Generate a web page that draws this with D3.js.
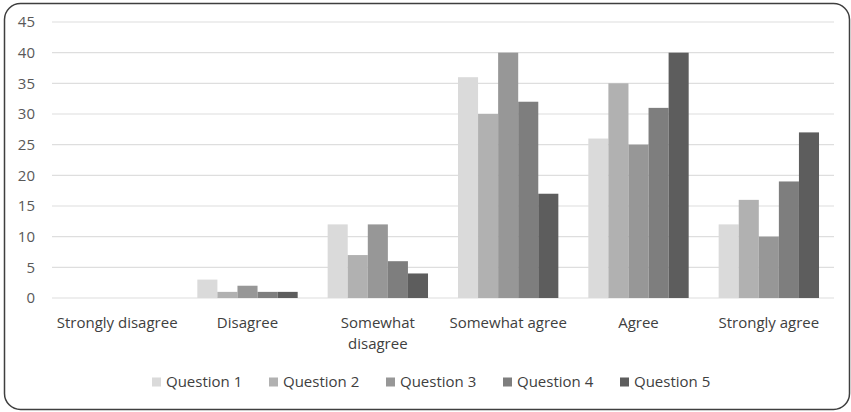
<!DOCTYPE html>
<html>
<head>
<meta charset="utf-8">
<script src="https://cdn.jsdelivr.net/npm/d3@7.9.0/dist/d3.min.js"></script>
<style>
  body { margin: 0; background: #fff; }
  svg text { font-family: "Open Sans", sans-serif; fill: #404040; }
</style>
</head>
<body>
<div id="chart"></div>
<script>
const categories = ['Strongly disagree', 'Disagree', 'Somewhat disagree', 'Somewhat agree', 'Agree', 'Strongly agree'];
const seriesNames = ['Question 1', 'Question 2', 'Question 3', 'Question 4', 'Question 5'];
const question1 = [0, 3, 12, 36, 26, 12];
const question2 = [0, 1, 7, 30, 35, 16];
const question3 = [0, 2, 12, 40, 25, 10];
const question4 = [0, 1, 6, 32, 31, 19];
const question5 = [0, 1, 4, 17, 40, 27];
const yTicks = [0, 5, 10, 15, 20, 25, 30, 35, 40, 45];

const seriesValues = [question1, question2, question3, question4, question5];
const colors = ['#dadada', '#b1b1b1', '#979797', '#7e7e7e', '#5d5d5d'];

const width = 851, height = 412;
const plot = { left: 52, right: 834, top: 22, bottom: 298 };

const svg = d3.select('#chart').append('svg')
  .attr('width', width).attr('height', height);

// rounded frame
svg.append('rect')
  .attr('x', 4.5).attr('y', 3.5)
  .attr('width', 845).attr('height', 406)
  .attr('rx', 16).attr('ry', 16)
  .attr('fill', '#fff').attr('stroke', '#3f3f3f').attr('stroke-width', 1.5);

const x0 = d3.scaleBand().domain(categories).range([plot.left, plot.right]).paddingInner(0.23).paddingOuter(0.115);
const x1 = d3.scaleBand().domain(seriesNames).range([0, x0.bandwidth()]);
const y = d3.scaleLinear().domain([0, 45]).range([plot.bottom, plot.top]);

// gridlines
svg.append('g').selectAll('line').data(yTicks).join('line')
  .attr('x1', plot.left).attr('x2', plot.right)
  .attr('y1', d => y(d)).attr('y2', d => y(d))
  .attr('stroke', '#dedede').attr('stroke-width', 1.2);

// y tick labels
svg.append('g').selectAll('text').data(yTicks).join('text')
  .attr('x', 35).attr('y', d => y(d))
  .attr('dy', '0.35em').attr('text-anchor', 'end')
  .attr('font-size', 15).style('fill', '#595959')
  .text(d => d);

// bars
const groups = svg.append('g').selectAll('g').data(seriesNames).join('g')
  .attr('fill', (d, i) => colors[i]);
groups.selectAll('rect')
  .data((s, i) => categories.map((c, j) => ({ c, s, v: seriesValues[i][j] })))
  .join('rect')
  .attr('x', d => x0(d.c) + x1(d.s))
  .attr('width', x1.bandwidth())
  .attr('y', d => y(d.v))
  .attr('height', d => y(0) - y(d.v));

// category labels (wrapped like the original)
const catLines = { 'Somewhat disagree': ['Somewhat', 'disagree'] };
const cat = svg.append('g').selectAll('text').data(categories).join('text')
  .attr('text-anchor', 'middle').attr('font-size', 15)
  .attr('x', d => x0(d) + x0.bandwidth() / 2)
  .attr('y', 328);
cat.each(function (d) {
  const lines = catLines[d] || [d];
  d3.select(this).selectAll('tspan').data(lines).join('tspan')
    .attr('x', x0(d) + x0.bandwidth() / 2)
    .attr('dy', (l, i) => i === 0 ? 0 : 21)
    .text(l => l);
});

// legend
const legendX = d3.scalePoint().domain(seriesNames).range([152, 620]);
const legend = svg.append('g').selectAll('g').data(seriesNames).join('g')
  .attr('transform', d => `translate(${legendX(d)},382)`);
legend.append('rect')
  .attr('x', 0).attr('y', -4.5).attr('width', 9).attr('height', 9)
  .attr('fill', (d, i) => colors[i]);
legend.append('text')
  .attr('x', 14).attr('dy', '0.35em').attr('font-size', 15)
  .text(d => d);
</script>
</body>
</html>
